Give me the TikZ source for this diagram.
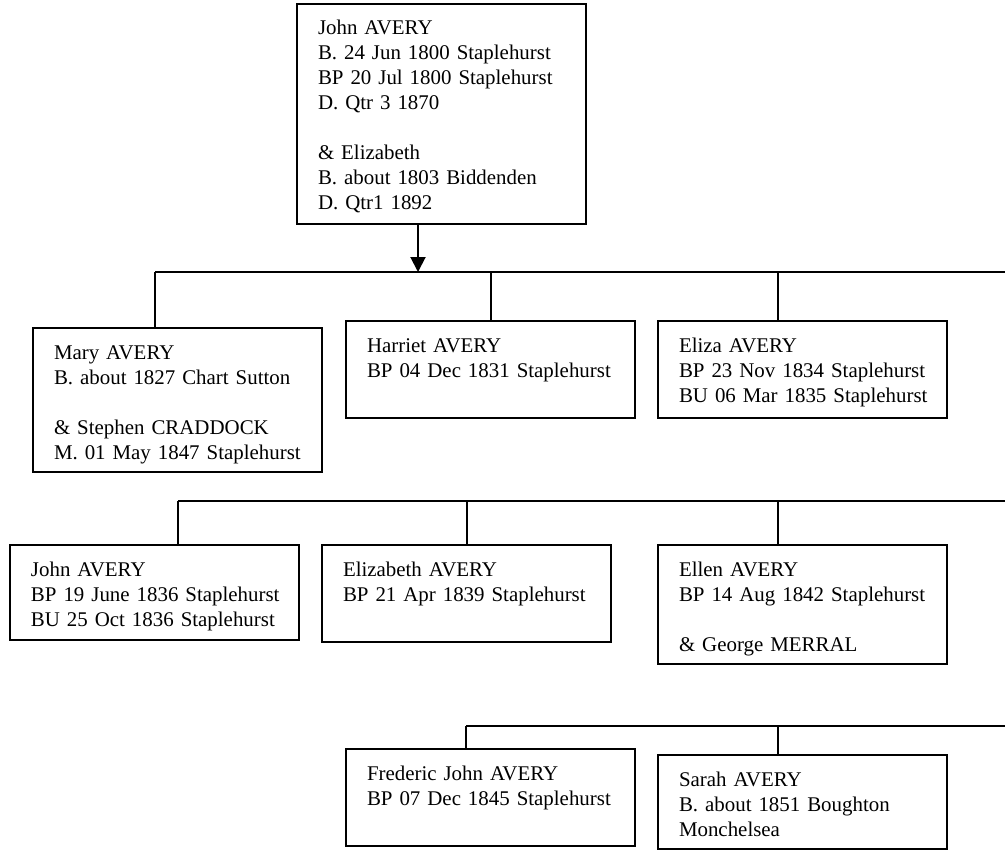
\documentclass[tikz,border=0pt]{standalone}
\usepackage{fontspec}
\setmainfont{Liberation Serif}
\usetikzlibrary{arrows.meta}

\begin{document}
\begin{tikzpicture}[x=0.5pt,y=0.5pt,yscale=-1,xscale=1,
    person/.style={draw, line width=1pt, outer sep=0pt, anchor=north west, align=left,
      inner xsep=5pt, inner ysep=0pt, text width=134.5pt, text height=15.5pt, text depth=#1,
      font=\fontsize{10.45pt}{12.5pt}\selectfont\frenchspacing,
      execute at begin node={\leftskip=5.5pt}},
    link/.style={line width=1pt}]
  \useasboundingbox (0,0) rectangle (1005,850);

  \node[person=94.5pt] (john1800) at (297,4) {John AVERY\\B. 24 Jun 1800 Staplehurst\\BP 20 Jul 1800 Staplehurst\\D. Qtr 3 1870\\[12.5pt]\& Elizabeth\\B. about 1803 Biddenden\\D. Qtr1 1892};

  \node[person=56.5pt] (mary) at (33,328) {Mary AVERY\\B. about 1827 Chart Sutton\\[12.5pt]\& Stephen CRADDOCK\\M. 01 May 1847 Staplehurst};
  \node[person=33pt] (harriet) at (346,321) {Harriet AVERY\\BP 04 Dec 1831 Staplehurst};
  \node[person=33pt] (eliza) at (658,321) {Eliza AVERY\\BP 23 Nov 1834 Staplehurst\\BU 06 Mar 1835 Staplehurst};

  \node[person=32pt] (john1836) at (10,545) {John AVERY\\BP 19 June 1836 Staplehurst\\BU 25 Oct 1836 Staplehurst};
  \node[person=33pt] (elizabeth) at (322,545) {Elizabeth AVERY\\BP 21 Apr 1839 Staplehurst};
  \node[person=44pt] (ellen) at (658,545) {Ellen AVERY\\BP 14 Aug 1842 Staplehurst\\[12.5pt]\& George MERRAL};

  \node[person=33pt] (frederic) at (346,749) {Frederic John AVERY\\BP 07 Dec 1845 Staplehurst};
  \node[person=31.5pt] (sarah) at (658,755) {Sarah AVERY\\B. about 1851 Boughton\\Monchelsea};

  \coordinate (rowA) at (155,272);
  \coordinate (rowAend) at (1005,272);
  \coordinate (rowB) at (178,501);
  \coordinate (rowBend) at (1005,501);
  \coordinate (rowC) at (466,726);
  \coordinate (rowCend) at (1005,726);

  \draw[link, -{Triangle[length=7.5pt,width=7.5pt]}] ([xshift=-11.75pt]john1800.south) -- ([xshift=-11.75pt]john1800.south |- rowA);
  \draw[link] (rowA) -- (rowAend);
  \draw[link] (rowA) -- (rowA |- mary.north);
  \draw[link] (harriet.north |- rowA) -- (harriet.north);
  \draw[link] ([xshift=-12.25pt]eliza.north |- rowA) -- ([xshift=-12.25pt]eliza.north);

  \draw[link] (rowB) -- (rowBend);
  \draw[link] (rowB) -- (rowB |- john1836.north);
  \draw[link] (elizabeth.north |- rowB) -- (elizabeth.north);
  \draw[link] ([xshift=-12.25pt]ellen.north |- rowB) -- ([xshift=-12.25pt]ellen.north);

  \draw[link] (rowC) -- (rowCend);
  \draw[link] (rowC) -- (rowC |- frederic.north);
  \draw[link] ([xshift=-12.25pt]sarah.north |- rowC) -- ([xshift=-12.25pt]sarah.north);
\end{tikzpicture}
\end{document}
